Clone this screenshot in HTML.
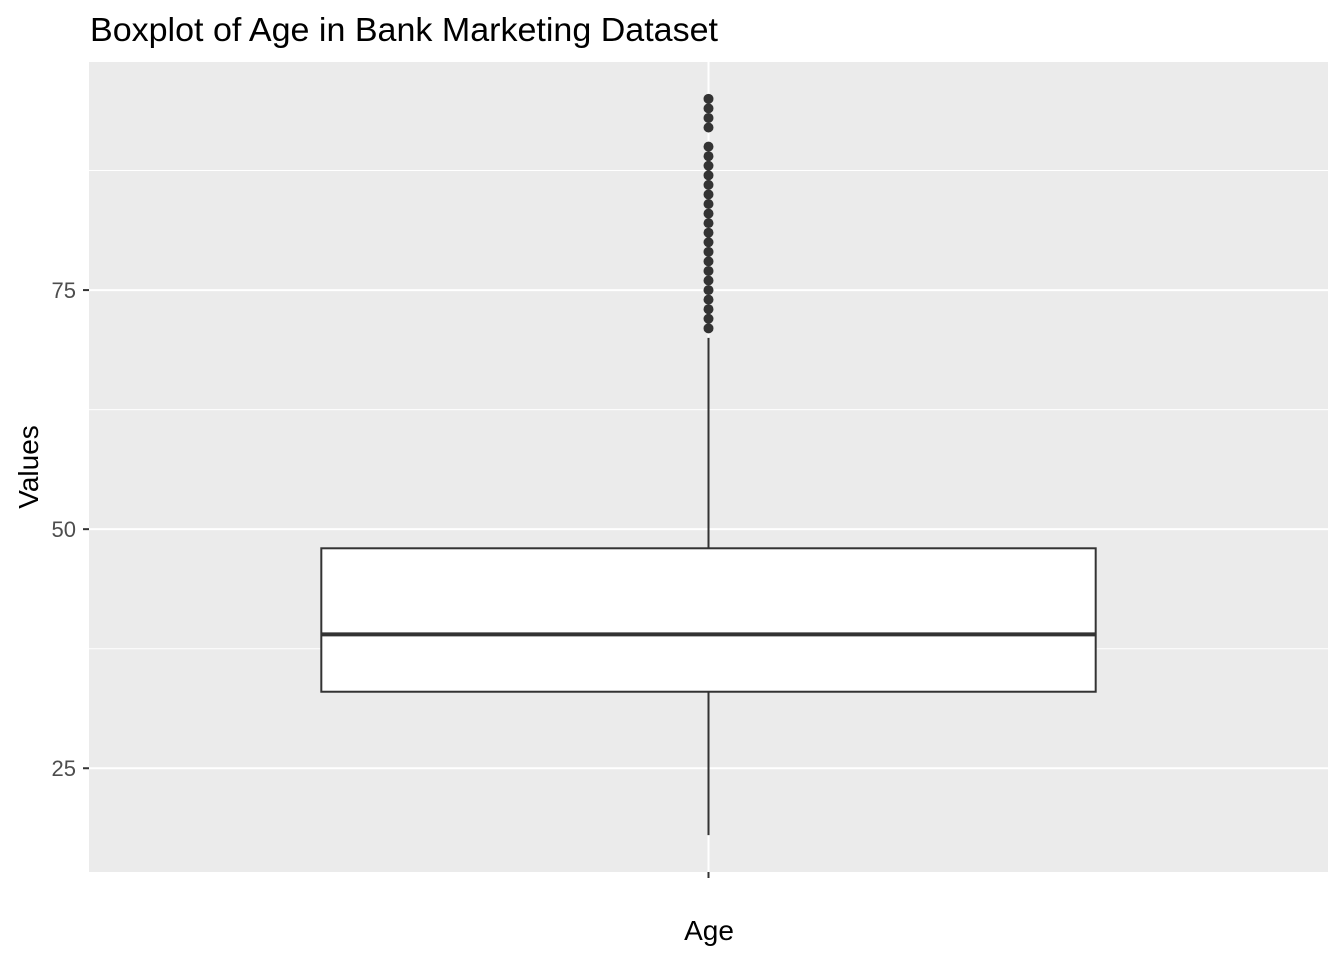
<!DOCTYPE html>
<html><head><meta charset="utf-8"><style>
body{margin:0;background:#fff;}
svg text{font-family:"Liberation Sans",Arial,sans-serif;}
</style></head><body>
<svg id="chart" width="1344" height="960">
<text x="90" y="41" font-size="33" fill="#000" textLength="628" lengthAdjust="spacingAndGlyphs">Boxplot of Age in Bank Marketing Dataset</text>
<rect x="89" y="62" width="1239" height="810" fill="#EBEBEB"/>
<g id="grid"></g>
<g id="marks"></g>
<g id="axes"></g>
<text x="709" y="940" font-size="28" text-anchor="middle" fill="#000">Age</text>
<text transform="translate(38,467) rotate(-90)" font-size="28" text-anchor="middle" fill="#000">Values</text>
</svg>
<script>
const categories=["Age"];
const q1=[33];
const medians=[39];
const q3=[48];
const whiskerLow=[18];
const whiskerHigh=[70];
const outliers=[71,72,73,74,75,76,77,78,79,80,81,82,83,84,85,86,87,88,89,90,92,93,94,95];
const yTicks=[25,50,75];
const yMinor=[37.5,62.5,87.5];
const NS="http://www.w3.org/2000/svg";
const pTop=62,pBot=872,pLeft=89,pRight=1328;
const yMin=14.15,yMax=98.85;
const y=v=>pBot-(v-yMin)/(yMax-yMin)*(pBot-pTop);
const bandW=(pRight-pLeft)/categories.length;
const xc=i=>pLeft+bandW*(i+0.5);
function mk(tag,attrs,parent){const e=document.createElementNS(NS,tag);for(const k in attrs)e.setAttribute(k,attrs[k]);parent.appendChild(e);return e;}
const grid=document.getElementById('grid'),marks=document.getElementById('marks'),axes=document.getElementById('axes');
yMinor.forEach(v=>{const l=mk('line',{x1:pLeft,x2:pRight,y1:y(v),y2:y(v),stroke:'#fff','stroke-width':1},grid);

});
yTicks.forEach(v=>{const l=mk('line',{x1:pLeft,x2:pRight,y1:y(v),y2:y(v),stroke:'#fff','stroke-width':2},grid);


const t=mk('line',{x1:pLeft-6,x2:pLeft,y1:y(v),y2:y(v),stroke:'#333','stroke-width':2},axes);


const tx=mk('text',{x:pLeft-13,y:y(v)+8,'font-size':22,'text-anchor':'end',fill:'#4D4D4D'},axes);tx.textContent=v;

});
categories.forEach((c,i)=>{const cx=xc(i);
const g=mk('line',{x1:cx,x2:cx,y1:pTop,y2:pBot,stroke:'#fff','stroke-width':2},grid);


const t=mk('line',{x1:cx,x2:cx,y1:pBot,y2:pBot+6,stroke:'#333','stroke-width':2},axes);


const w=bandW*0.625;
const wl=mk('line',{x1:cx,x2:cx,y1:y(q3[i]),y2:y(whiskerHigh[i]),stroke:'#333','stroke-width':2},marks);


const wl2=mk('line',{x1:cx,x2:cx,y1:y(q1[i]),y2:y(whiskerLow[i]),stroke:'#333','stroke-width':2},marks);


const b=mk('rect',{x:cx-w/2,y:y(q3[i]),width:w,height:y(q1[i])-y(q3[i]),fill:'#fff',stroke:'#333','stroke-width':2},marks);


const m=mk('line',{x1:cx-w/2,x2:cx+w/2,y1:y(medians[i]),y2:y(medians[i]),stroke:'#333','stroke-width':4},marks);


outliers.forEach(v=>{const p=mk('circle',{cx:cx,cy:y(v),r:5,fill:'#333'},marks);

});
});
</script>
</body></html>
